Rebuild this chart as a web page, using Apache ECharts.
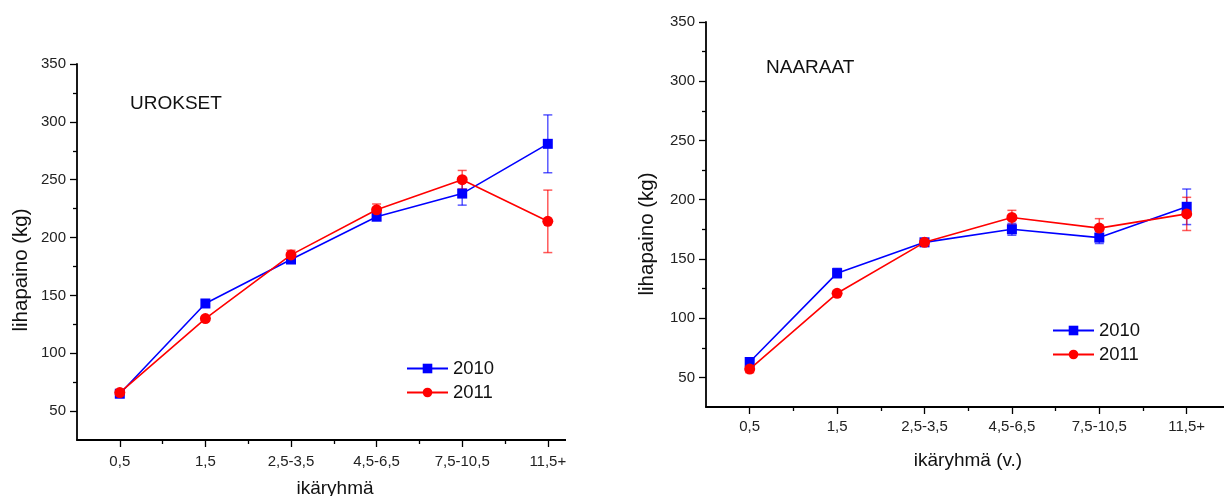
<!DOCTYPE html>
<html>
<head>
<meta charset="utf-8">
<script src="https://cdn.jsdelivr.net/npm/echarts@6/dist/echarts.min.js"></script>
<style>
html,body{margin:0;padding:0;background:#fff;overflow:hidden;}
.wrap{position:absolute;top:0;height:496px;overflow:hidden;}
#wl{left:0;width:566px;}
#wr{left:566px;width:658px;}
#left{position:absolute;left:0;top:0;width:660px;height:496px;}
#right{position:absolute;left:0;top:0;width:720px;height:496px;}
</style>
</head>
<body>
<div class="wrap" id="wl"><div id="left"></div></div>
<div class="wrap" id="wr"><div id="right"></div></div>
<script>
// ---- data ----
const categories = ['0,5', '1,5', '2,5-3,5', '4,5-6,5', '7,5-10,5', '11,5+'];
const seriesNames = ['2010', '2011'];
// Males (UROKSET)
const males2010 = [65, 143, 181, 218, 238, 281];
const males2010Err = [1, 3, 2, 3, 10, 25];
const males2011 = [66, 130, 185, 224, 250, 214];
const males2011Err = [1, 2, 4, 5, 8, 27];
// Females (NAARAAT)
const females2010 = [63, 138, 164, 175, 168, 194];
const females2010Err = [2, 4, 3, 5, 5, 15];
const females2011 = [57, 121, 164, 185, 176, 188];
const females2011Err = [3, 2, 3, 6, 8, 14];
// tick labels
const yMajorTicks = [50, 100, 150, 200, 250, 300, 350];
const yMinorTicks = [75, 125, 175, 225, 275, 325];
const xMajorTicks = [0, 1, 2, 3, 4, 5];
const xMinorTicks = [0.5, 1.5, 2.5, 3.5, 4.5, 5.5];
const yMin = 25, yMax = 350;

const FONT = "'Liberation Sans', Arial, sans-serif";
const BLUE = '#0000ff', RED = '#ff0000';

function pairs(vals) { return vals.map((v, i) => [i, v]); }
function triples(vals, errs) { return vals.map((v, i) => [i, v, errs[i]]); }

function errSeries(name, vals, errs, color) {
  return {
    type: 'custom', name: name, z: 1, silent: true,
    data: triples(vals, errs),
    encode: { x: 0, y: 1 },
    renderItem: function (params, api) {
      const x = api.value(0), v = api.value(1), e = api.value(2);
      const t = api.coord([x, v + e]), b = api.coord([x, v - e]);
      const w = 4.5;
      const st = { stroke: color, lineWidth: 1.5, opacity: 0.65 };
      return { type: 'group', children: [
        { type: 'line', shape: { x1: t[0], y1: t[1], x2: b[0], y2: b[1] }, style: st },
        { type: 'line', shape: { x1: t[0] - w, y1: t[1], x2: t[0] + w, y2: t[1] }, style: st },
        { type: 'line', shape: { x1: b[0] - w, y1: b[1], x2: b[0] + w, y2: b[1] }, style: st }
      ]};
    }
  };
}

function makeOption(cfg) {
  const axisLineStyle = { color: '#000', width: 1.8 };
  const tickStyle = { color: '#000', width: 1.3 };
  return {
    animation: false,
    textStyle: { fontFamily: FONT },
    grid: { left: cfg.gridLeft, top: cfg.gridTop, width: cfg.gridWidth, height: cfg.gridHeight },
    legend: {
      data: seriesNames, orient: 'vertical', left: cfg.legLeft, top: cfg.legTop,
      itemWidth: 41, itemHeight: 12, itemGap: 5,
      textStyle: { fontFamily: FONT, fontSize: 18.5, color: '#111', lineHeight: 18 }
    },
    xAxis: [{
      type: 'value', min: -0.5, max: 5.5,
      axisLine: { onZero: false, lineStyle: axisLineStyle },
      axisTick: { customValues: xMajorTicks, length: 7, lineStyle: tickStyle },
      splitLine: { show: false },
      axisLabel: {
        customValues: xMajorTicks,
        margin: cfg.xLabelMargin, fontSize: 15, color: '#222', fontFamily: FONT,
        formatter: function (v) { return categories[Math.round(v)]; }
      }
    }, {
      type: 'value', min: -0.5, max: 5.5, position: 'bottom',
      axisLine: { show: false, onZero: false },
      axisTick: { customValues: xMinorTicks, length: 4, lineStyle: tickStyle },
      splitLine: { show: false },
      axisLabel: { show: false }
    }],
    yAxis: [{
      type: 'value', min: yMin, max: yMax,
      axisLine: { show: true, onZero: false, lineStyle: axisLineStyle },
      axisTick: { show: true, customValues: yMajorTicks, length: 7, lineStyle: tickStyle },
      splitLine: { show: false },
      axisLabel: { customValues: yMajorTicks, margin: 11, fontSize: 15, color: '#222', fontFamily: FONT }
    }, {
      type: 'value', min: yMin, max: yMax, position: 'left',
      axisLine: { show: false, onZero: false },
      axisTick: { show: true, customValues: yMinorTicks, length: 4, lineStyle: tickStyle },
      splitLine: { show: false },
      axisLabel: { show: false }
    }],
    graphic: [
      { type: 'text', x: cfg.titleX, y: cfg.titleY,
        style: { text: cfg.title, font: '19px ' + FONT, fill: '#111', textAlign: 'left', textVerticalAlign: 'middle' } },
      { type: 'text', x: cfg.yNameX, y: cfg.yNameY, rotation: Math.PI / 2,
        style: { text: 'lihapaino (kg)', font: '20.5px ' + FONT, fill: '#111', textAlign: 'center', textVerticalAlign: 'middle' } },
      { type: 'text', x: cfg.xNameX, y: cfg.xNameY,
        style: { text: cfg.xName, font: '19px ' + FONT, fill: '#111', textAlign: 'center', textVerticalAlign: 'middle' } }
    ],
    series: [
      errSeries('e2010', cfg.v2010, cfg.e2010, BLUE),
      errSeries('e2011', cfg.v2011, cfg.e2011, RED),
      { type: 'line', name: '2010', data: pairs(cfg.v2010), z: 3,
        symbol: 'rect', symbolSize: 10, color: BLUE,
        lineStyle: { color: BLUE, width: 1.6 }, itemStyle: { color: BLUE } },
      { type: 'line', name: '2011', data: pairs(cfg.v2011), z: 4,
        symbol: 'circle', symbolSize: 11, color: RED,
        lineStyle: { color: RED, width: 1.6 }, itemStyle: { color: RED } }
    ]
  };
}

const left = echarts.init(document.getElementById('left'), null, { renderer: 'canvas' });
left.setOption(makeOption({
  gridLeft: 77, gridTop: 64, gridWidth: 513.6, gridHeight: 376,
  title: 'UROKSET', titleX: 130, titleY: 104,
  legLeft: 401, legTop: 354,
  yNameX: 21, yNameY: 270, xName: 'ikäryhmä', xNameX: 335, xNameY: 489,
  xLabelMargin: 14,
  v2010: males2010, e2010: males2010Err, v2011: males2011, e2011: males2011Err
}));

const right = echarts.init(document.getElementById('right'), null, { renderer: 'canvas' });
right.setOption(makeOption({
  gridLeft: 140, gridTop: 22, gridWidth: 524.4, gridHeight: 385,
  title: 'NAARAAT', titleX: 200, titleY: 68,
  legLeft: 481, legTop: 316,
  yNameX: 81, yNameY: 234, xName: 'ikäryhmä (v.)', xNameX: 402, xNameY: 461,
  xLabelMargin: 12,
  v2010: females2010, e2010: females2010Err, v2011: females2011, e2011: females2011Err
}));
</script>
</body>
</html>
